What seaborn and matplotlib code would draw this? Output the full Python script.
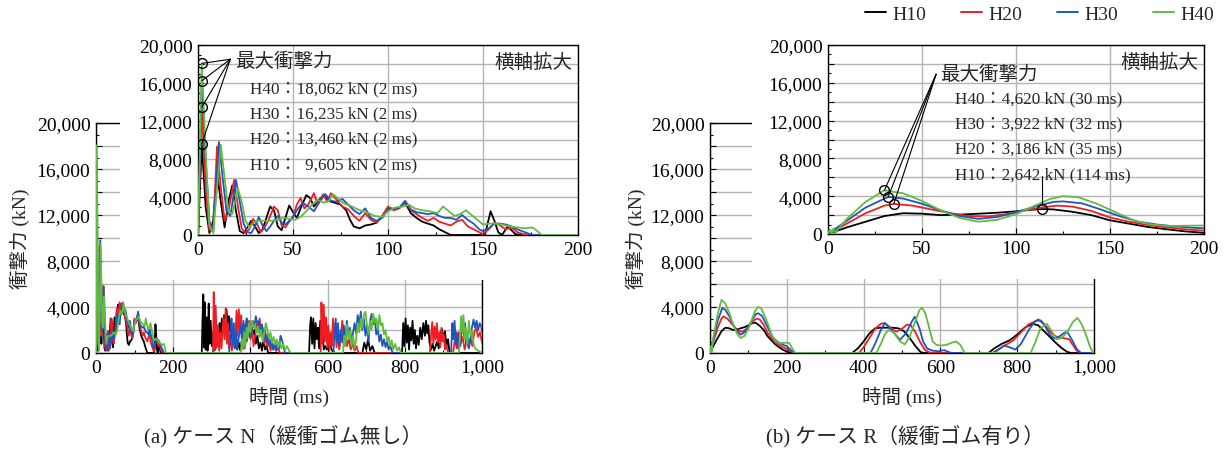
import pandas as pd
import matplotlib.pyplot as plt
import seaborn as sns
from matplotlib.ticker import MultipleLocator, FuncFormatter
from matplotlib.patches import Rectangle
from matplotlib.lines import Line2D

# series names / colours
heights = ['H10', 'H20', 'H30', 'H40']
colors = {'H10': '#000000', 'H20': '#f01e23', 'H30': '#2055c0', 'H40': '#62bb40'}

# peak values read from the annotations
n_peak_kn = [9605, 13460, 16235, 18062]
n_peak_ms = [2, 2, 2, 2]
r_peak_kn = [2642, 3186, 3922, 4620]
r_peak_ms = [114, 35, 32, 30]

# ---- case N (no rubber), (time ms, force kN)
n_h10 = [(0, 0), (2, 9605), (4, 3000), (6, 200), (8, 1500), (10, 6600), (12, 3500), (14, 800),
         (16, 3500), (18, 5200), (20, 2500), (22, 400), (24, 200), (26, 800), (28, 1500), (30, 900),
         (32, 200), (34, 600), (36, 1800), (38, 3000), (40, 2600), (42, 900), (44, 500), (46, 1800),
         (48, 3100), (50, 2400), (52, 1800), (54, 2800), (57, 4200), (59, 3900), (61, 3000), (63, 3500),
         (66, 4200), (68, 3800), (70, 3500), (72, 3400), (75, 3200), (78, 2600), (80, 1600), (82, 900),
         (85, 700), (88, 1000), (91, 1100), (94, 1300), (97, 2000), (100, 2900), (103, 2700), (106, 2900),
         (109, 3400), (112, 2300), (115, 1800), (118, 1400), (121, 1200), (124, 1000), (127, 600),
         (130, 300), (133, 0), (151, 0), (154, 2500), (156, 1500), (158, 300), (160, 0), (163, 900),
         (165, 500), (167, 100), (170, 0),
         (274, 0), (276, 3000), (278, 5100), (280, 500), (282, 4400), (284, 300), (287, 3100), (289, 200),
         (292, 4300), (294, 800), (297, 2800), (300, 600), (303, 1800), (306, 200), (310, 400), (314, 2000),
         (317, 1000), (320, 2600), (323, 1500), (326, 3000), (329, 1800), (332, 3300), (335, 2200),
         (338, 3800), (341, 2500), (344, 3200), (347, 1900), (350, 2800), (353, 1200), (356, 2000),
         (359, 600), (362, 1500), (366, 300), (370, 900), (374, 200), (378, 1200), (382, 600), (386, 1800),
         (390, 1000), (394, 2200), (398, 1400), (402, 2500), (406, 1600), (410, 2000), (414, 800),
         (418, 1500), (422, 400), (426, 900), (430, 200), (434, 1200), (438, 300), (442, 600), (446, 0),
         (552, 0), (555, 2500), (557, 3100), (560, 800), (563, 3000), (566, 400), (569, 2600), (572, 1200),
         (575, 2200), (578, 400), (581, 2800), (584, 1000), (587, 1900), (590, 300), (594, 600), (598, 300),
         (605, 800), (612, 200), (620, 0), (690, 0), (695, 900), (700, 300), (705, 1200), (710, 200),
         (716, 600), (722, 0), (793, 0), (796, 2600), (799, 600), (802, 3000), (805, 900), (808, 2400),
         (811, 300), (814, 2200), (817, 1100), (820, 2800), (823, 800), (826, 2000), (829, 400), (832, 1500),
         (836, 700), (840, 2200), (844, 1200), (848, 2600), (852, 1500), (855, 2800), (858, 1700),
         (861, 2400), (864, 900), (868, 300), (872, 800), (876, 200), (880, 600), (884, 1000), (888, 400),
         (892, 1500), (896, 2100), (900, 1200), (904, 1900), (908, 600), (912, 1200), (916, 0), (1000, 0)]

n_h20 = [(0, 0), (2, 13460), (4, 5000), (6, 500), (8, 400), (10, 9300), (12, 5000), (14, 1500),
         (16, 2500), (19, 5800), (21, 3000), (23, 700), (25, 200), (27, 600), (29, 1700), (31, 1200),
         (33, 300), (35, 800), (37, 1500), (40, 3000), (42, 2600), (44, 1000), (46, 800), (48, 1400),
         (50, 1900), (52, 3200), (54, 3900), (56, 2800), (58, 3200), (61, 4400), (63, 3200), (66, 4300),
         (68, 3500), (70, 4400), (73, 3700), (76, 3000), (79, 2700), (82, 2000), (85, 1500), (88, 2300),
         (91, 1600), (94, 1300), (97, 2000), (100, 3000), (103, 2600), (106, 2800), (109, 3500),
         (112, 2600), (115, 2200), (118, 1800), (121, 1500), (124, 1800), (127, 1400), (130, 1200),
         (133, 1000), (136, 1400), (139, 1600), (142, 900), (145, 600), (148, 300), (150, 100), (153, 600),
         (156, 1300), (159, 1000), (162, 600), (165, 800), (168, 300), (171, 100), (175, 0),
         (303, 0), (305, 5300), (307, 300), (310, 4100), (313, 500), (316, 2400), (319, 200), (322, 1800),
         (325, 400), (330, 3000), (333, 1200), (336, 3900), (339, 800), (342, 2600), (345, 400), (348, 1600),
         (352, 200), (356, 1000), (360, 400), (364, 3700), (367, 1500), (370, 3800), (373, 2000),
         (376, 3300), (379, 1000), (382, 2500), (385, 400), (388, 1800), (391, 3000), (394, 2000),
         (397, 2800), (400, 1200), (404, 2300), (408, 600), (412, 1400), (416, 2500), (420, 2000),
         (424, 3000), (428, 1500), (432, 2200), (436, 800), (440, 1600), (444, 500), (448, 1000), (452, 200),
         (456, 800), (460, 300), (464, 900), (468, 200), (472, 500), (476, 0),
         (582, 0), (584, 4400), (587, 800), (590, 4200), (593, 1000), (596, 3100), (599, 500), (602, 2400),
         (605, 200), (608, 1800), (611, 600), (614, 3000), (617, 1200), (620, 2600), (623, 500), (626, 2000),
         (630, 300), (634, 1300), (638, 2800), (642, 1400), (646, 2000), (650, 600), (655, 1200), (660, 300),
         (665, 800), (670, 200), (675, 600), (680, 0), (865, 0), (868, 1500), (871, 2700), (874, 800),
         (877, 2300), (880, 1200), (883, 2600), (886, 900), (889, 1800), (892, 500), (895, 2200),
         (898, 1000), (901, 1600), (904, 300), (908, 700), (912, 0), (925, 0), (930, 1200), (935, 400),
         (940, 1800), (945, 800), (950, 1400), (955, 300), (960, 1000), (965, 500), (970, 1300), (975, 600),
         (980, 1800), (985, 2200), (990, 1400), (995, 1800), (1000, 900)]

n_h30 = [(0, 0), (2, 16235), (4, 8000), (6, 1500), (8, 300), (11, 9800), (13, 6000), (15, 2500),
         (17, 2000), (20, 5800), (22, 3500), (24, 1200), (26, 300), (28, 200), (30, 900), (32, 1900),
         (34, 1000), (36, 400), (38, 900), (40, 1500), (42, 2000), (44, 1300), (46, 1100), (48, 1500),
         (50, 1900), (52, 2600), (55, 3400), (58, 3000), (61, 2500), (64, 3500), (67, 4300), (70, 3600),
         (73, 3500), (76, 3800), (79, 3200), (82, 2600), (85, 2200), (88, 2800), (91, 1800), (94, 1500),
         (97, 1800), (100, 2700), (103, 2800), (106, 2900), (109, 3600), (112, 2700), (115, 2400),
         (118, 2300), (121, 2200), (124, 2300), (127, 2000), (130, 1800), (133, 1800), (136, 1600),
         (139, 2100), (142, 1600), (145, 1200), (148, 600), (150, 400), (153, 700), (156, 1200), (159, 1200),
         (162, 1100), (165, 900), (168, 600), (172, 300), (176, 0),
         (345, 0), (348, 1800), (351, 3000), (354, 800), (357, 2600), (360, 400), (363, 1800), (366, 300),
         (370, 1400), (374, 2400), (378, 1200), (382, 2800), (386, 1600), (390, 3000), (394, 2000),
         (398, 2600), (402, 1400), (406, 2800), (410, 2200), (414, 3200), (418, 2500), (422, 2800),
         (426, 1800), (430, 2500), (434, 1200), (438, 2000), (442, 900), (446, 1600), (450, 600), (454, 1200),
         (458, 300), (462, 800), (466, 200), (470, 1000), (474, 400), (478, 1500), (482, 1100), (486, 500),
         (490, 0), (615, 0), (618, 1600), (621, 3000), (624, 1000), (627, 2600), (630, 600), (634, 2000),
         (638, 900), (642, 2400), (646, 1200), (650, 2800), (654, 1600), (658, 2200), (662, 900), (666, 1800),
         (670, 2600), (674, 1700), (678, 3300), (682, 2400), (686, 3600), (690, 2000), (694, 3000),
         (698, 1500), (702, 2400), (706, 1000), (710, 2800), (714, 3400), (718, 2500), (722, 3000),
         (726, 1600), (730, 2200), (734, 1000), (738, 1600), (742, 600), (746, 1200), (750, 500), (754, 1000),
         (758, 300), (762, 700), (766, 200), (770, 0), (920, 0), (923, 2600), (926, 1200), (929, 2800),
         (932, 800), (935, 1800), (938, 400), (941, 1400), (944, 600), (947, 2000), (950, 2800), (953, 1500),
         (956, 2600), (959, 900), (962, 1600), (966, 400), (970, 1200), (974, 2200), (978, 2900),
         (982, 2200), (986, 2800), (990, 2000), (994, 2600), (998, 2300), (1000, 1900)]

n_h40 = [(0, 0), (2, 18062), (4, 9000), (6, 1000), (8, 200), (12, 9500), (14, 6000), (16, 2500),
         (18, 2200), (21, 4900), (23, 3500), (25, 1500), (27, 800), (30, 1400), (33, 1500), (36, 1500),
         (39, 1500), (42, 1600), (45, 1800), (48, 1700), (51, 1600), (54, 1900), (57, 2500), (60, 3200),
         (63, 3700), (66, 3400), (69, 3600), (71, 4300), (74, 3800), (77, 3300), (80, 3100), (84, 2700),
         (87, 2500), (90, 2300), (93, 2000), (97, 1900), (100, 2500), (104, 2900), (108, 3000), (111, 3200),
         (114, 2800), (118, 2600), (122, 2500), (126, 2300), (129, 3000), (132, 2500), (135, 2000),
         (138, 2200), (141, 2600), (144, 2100), (147, 1600), (150, 1100), (153, 1200), (156, 1200),
         (160, 1100), (164, 900), (168, 800), (172, 700), (176, 800), (178, 500), (181, 0),
         (375, 0), (378, 1200), (381, 300), (384, 1800), (387, 600), (390, 2200), (393, 1300), (396, 2600),
         (400, 1800), (404, 2800), (408, 2200), (412, 2500), (416, 1700), (420, 2300), (424, 1400),
         (428, 2000), (432, 1000), (436, 1800), (440, 2600), (444, 2000), (448, 1300), (452, 1800),
         (456, 900), (460, 1400), (464, 700), (468, 1200), (472, 500), (476, 1000), (480, 400), (485, 800),
         (490, 300), (495, 600), (500, 200), (505, 0), (640, 0), (643, 1500), (646, 600), (650, 2500),
         (654, 1200), (658, 2000), (662, 600), (666, 1500), (670, 400), (674, 1200), (678, 2600), (682, 1800),
         (686, 3000), (690, 2200), (694, 3300), (698, 3600), (702, 2400), (706, 1600), (710, 2800),
         (714, 2000), (718, 3400), (722, 2600), (726, 3000), (730, 2000), (734, 3300), (738, 2400),
         (742, 2600), (746, 1600), (750, 2000), (754, 1000), (758, 1400), (762, 600), (766, 1100), (770, 300),
         (775, 800), (780, 200), (785, 500), (790, 0), (940, 0), (943, 1400), (946, 3200), (949, 1800),
         (952, 3300), (955, 1200), (958, 2200), (962, 700), (966, 2800), (970, 1500), (974, 2000), (978, 800),
         (982, 400), (986, 300), (990, 200), (995, 100), (1000, 0)]

# ---- case R (with rubber)
r_h10 = [(0, 0), (10, 700), (20, 1300), (30, 1900), (40, 2200), (50, 2150), (60, 2000), (70, 2050),
         (80, 2150), (90, 2250), (100, 2400), (107, 2550), (114, 2642), (120, 2600), (130, 2350),
         (140, 2000), (150, 1450), (160, 1100), (170, 750), (180, 500), (190, 280), (200, 120), (210, 30),
         (220, 0), (370, 0), (385, 400), (400, 1000), (415, 1700), (430, 2150), (445, 2200), (460, 2200),
         (475, 2200), (490, 2150), (505, 1900), (520, 1300), (535, 600), (548, 100), (555, 0), (725, 0),
         (740, 400), (760, 800), (780, 1100), (800, 1600), (820, 2200), (840, 2550), (855, 2400),
         (870, 1900), (885, 1400), (900, 900), (915, 450), (930, 100), (940, 0), (1000, 0)]

r_h20 = [(0, 0), (10, 1100), (20, 2200), (30, 3000), (35, 3186), (45, 3000), (55, 2600), (65, 2200),
         (75, 1900), (85, 1850), (95, 2100), (105, 2500), (115, 2850), (122, 3000), (130, 2900),
         (140, 2450), (150, 1750), (160, 1300), (170, 950), (180, 700), (190, 500), (200, 350), (210, 150),
         (222, 0), (388, 0), (400, 500), (415, 1300), (430, 2100), (445, 2550), (455, 2600), (470, 2200),
         (485, 1850), (500, 2100), (512, 2450), (522, 2450), (535, 1800), (548, 900), (560, 250), (572, 50),
         (580, 0), (735, 0), (750, 300), (770, 700), (790, 1100), (810, 1800), (830, 2500), (850, 2800),
         (862, 2830), (875, 2300), (890, 1700), (905, 1350), (920, 1300), (935, 1200), (945, 700),
         (955, 200), (966, 0), (1000, 0)]

r_h30 = [(0, 0), (10, 1400), (20, 2800), (32, 3922), (40, 3750), (50, 3200), (60, 2500), (70, 1900),
         (80, 1600), (90, 1800), (100, 2300), (110, 2900), (120, 3400), (125, 3450), (135, 3250),
         (145, 2600), (155, 1900), (165, 1300), (175, 1000), (185, 800), (195, 650), (200, 600), (212, 200),
         (222, 0), (418, 0), (430, 800), (445, 2000), (455, 2600), (465, 2300), (480, 1700), (495, 1150),
         (510, 1700), (525, 2700), (533, 3150), (545, 2200), (555, 1000), (565, 400), (580, 200), (595, 150),
         (610, 250), (620, 100), (630, 0), (738, 0), (752, 300), (766, 650), (780, 500), (795, 300),
         (810, 800), (830, 2000), (845, 2700), (855, 2920), (870, 2500), (885, 1600), (896, 1250),
         (910, 1450), (925, 1800), (932, 1750), (945, 1000), (955, 350), (966, 0), (1000, 0)]

r_h40 = [(0, 0), (1, 500), (2, 0), (3, 600), (4, 100), (5, 400), (10, 1600), (20, 3400), (30, 4620),
         (40, 4300), (50, 3500), (60, 2500), (70, 1700), (80, 1300), (90, 1500), (100, 2100), (110, 3000),
         (118, 3700), (125, 4000), (133, 3900), (143, 3200), (153, 2300), (163, 1400), (172, 1000),
         (182, 850), (192, 880), (200, 900), (207, 850), (214, 400), (222, 0), (433, 0), (445, 800),
         (455, 1600), (465, 2000), (478, 1800), (495, 1000), (507, 750), (520, 1400), (535, 2800),
         (545, 3700), (552, 3950), (560, 3500), (570, 2300), (580, 1000), (590, 700), (600, 650),
         (615, 700), (630, 900), (641, 1000), (652, 700), (663, 0), (835, 0), (848, 1000), (860, 2100),
         (877, 2540), (890, 1900), (902, 1200), (915, 1300), (930, 1800), (945, 2700), (957, 3050),
         (968, 2500), (980, 1500), (990, 500), (998, 0), (1000, 0)]


def to_df(series):
    parts = [pd.DataFrame(s, columns=['t', 'v']).assign(series=h) for h, s in zip(heights, series)]
    return pd.concat(parts, ignore_index=True)


df_n = to_df([n_h10, n_h20, n_h30, n_h40])
df_r = to_df([r_h10, r_h20, r_h30, r_h40])

sns.set_style('ticks')
plt.rcParams['font.family'] = ['Liberation Serif', 'Noto Sans CJK JP']
plt.rcParams['axes.unicode_minus'] = False

W, H = 1226, 452
fig = plt.figure(figsize=(W / 100, H / 100), dpi=100)


def box(x0, y0, x1, y1):
    return [x0 / W, 1 - y1 / H, (x1 - x0) / W, (y1 - y0) / H]


yfmt = FuncFormatter(lambda v, p: f'{v:,.0f}' if v % 4000 == 0 else '')
xfmt = FuncFormatter(lambda v, p: f'{v:,.0f}')


def style(ax, xmax, xmaj, xmin):
    ax.set_xlim(0, xmax)
    ax.set_ylim(0, 20000)
    ax.xaxis.set_major_locator(MultipleLocator(xmaj))
    ax.xaxis.set_minor_locator(MultipleLocator(xmin))
    ax.yaxis.set_major_locator(MultipleLocator(2000))
    ax.yaxis.set_minor_locator(MultipleLocator(1000))
    ax.yaxis.set_major_formatter(yfmt)
    ax.xaxis.set_major_formatter(xfmt)
    ax.grid(True, which='major', color='#b4b4b4', lw=1.0)
    ax.tick_params(which='both', direction='in', labelsize=14, pad=4, colors='black')
    ax.tick_params(which='major', length=4, width=0.8)
    ax.tick_params(which='minor', length=2, width=0.8)
    for s in ax.spines.values():
        s.set_color('black')
        s.set_linewidth(1.0)
    ax.set_xlabel('')
    ax.set_ylabel('')


def draw(ax, df):
    sns.lineplot(data=df, x='t', y='v', hue='series', palette=colors, estimator=None,
                 sort=False, legend=False, lw=1.3, ax=ax)
    # curves sit on top of the frame, as in the original
    for ln in ax.lines:
        ln.set_zorder(3)


panels = [
    dict(df=df_n, main=(96, 124, 482, 354), inset=(198, 46, 578, 236), white=(120, 0, 612, 281),
         cap='(a) ケース N（緩衝ゴム無し）', capx=283, ylx=20),
    dict(df=df_r, main=(710, 124, 1094, 354), inset=(828, 46, 1204, 235), white=(752, 0, 1226, 280),
         cap='(b) ケース R（緩衝ゴム有り）', capx=905, ylx=636),
]

insets = []
for p in panels:
    ax = fig.add_axes(box(*p['main']))
    ax.set_zorder(0)
    style(ax, 1000, 200, 100)
    draw(ax, p['df'])
    style(ax, 1000, 200, 100)

    x0, y0, x1, y1 = p['white']
    fig.add_artist(Rectangle((x0 / W, 1 - y1 / H), (x1 - x0) / W, (y1 - y0) / H,
                             transform=fig.transFigure, facecolor='white', edgecolor='none', zorder=1))

    ins = fig.add_axes(box(*p['inset']))
    ins.set_zorder(2)
    draw(ins, p['df'])
    style(ins, 200, 50, 25)
    insets.append(ins)

    mx0, my0, mx1, my1 = p['main']
    fig.text(p['ylx'] / W, 1 - 239 / H, '衝撃力 (kN)', rotation=90, ha='center', va='center', fontsize=14)
    fig.text((mx0 + mx1) / 2 / W, 1 - 397 / H, '時間 (ms)', ha='center', va='center', fontsize=14)
    fig.text(p['capx'] / W, 1 - 436 / H, p['cap'], ha='center', va='center', fontsize=15)

    ins.text(0.985, 0.91, '横軸拡大', transform=ins.transAxes, ha='right', va='center',
             fontsize=14, zorder=6)

# --- annotations, case N
ax = insets[0]
for kn, ms in zip(n_peak_kn, n_peak_ms):
    ax.plot([ms, 17], [kn, 18500], color='black', lw=0.8, zorder=5)
ax.plot(n_peak_ms, n_peak_kn, 'o', mfc='none', mec='black', ms=7, mew=1.0, zorder=6)
ax.text(19.5, 18350, '最大衝撃力', ha='left', va='center', fontsize=14, zorder=6)
rows_n = [15480, 12850, 10210, 7480]
for h, kn, ms, y in zip(heights[::-1], n_peak_kn[::-1], n_peak_ms[::-1], rows_n):
    num = f'{kn:,}' if kn >= 10000 else f'  {kn:,}'
    ax.text(27.4, y, f'{h}：{num} kN ({ms} ms)', ha='left', va='center', fontsize=12.3, zorder=6)

# --- annotations, case R
ax = insets[1]
for kn, ms in zip(r_peak_kn[1:], r_peak_ms[1:]):
    ax.plot([ms, 57.5], [kn, 16900], color='black', lw=0.8, zorder=5)
ax.plot([r_peak_ms[0], r_peak_ms[0]], [3050, 6150], color='black', lw=0.8, zorder=5)
ax.plot(r_peak_ms, r_peak_kn, 'o', mfc='none', mec='black', ms=7, mew=1.0, zorder=6)
ax.text(59.4, 17000, '最大衝撃力', ha='left', va='center', fontsize=14, zorder=6)
rows_r = [14390, 11740, 9100, 6350]
for h, kn, ms, y in zip(heights[::-1], r_peak_kn[::-1], r_peak_ms[::-1], rows_r):
    ax.text(67.5, y, f'{h}：{kn:,} kN ({ms} ms)', ha='left', va='center', fontsize=12.3, zorder=6)

handles = [Line2D([], [], color=colors[h], lw=1.4) for h in heights]
fig.legend(handles, heights, ncol=4, loc='center right', bbox_to_anchor=(1214 / W, 1 - 15 / H),
           frameon=False, fontsize=14, handlelength=1.1, handletextpad=0.3, columnspacing=1.8,
           borderpad=0, borderaxespad=0)

fig.savefig('out.png', dpi=100)
